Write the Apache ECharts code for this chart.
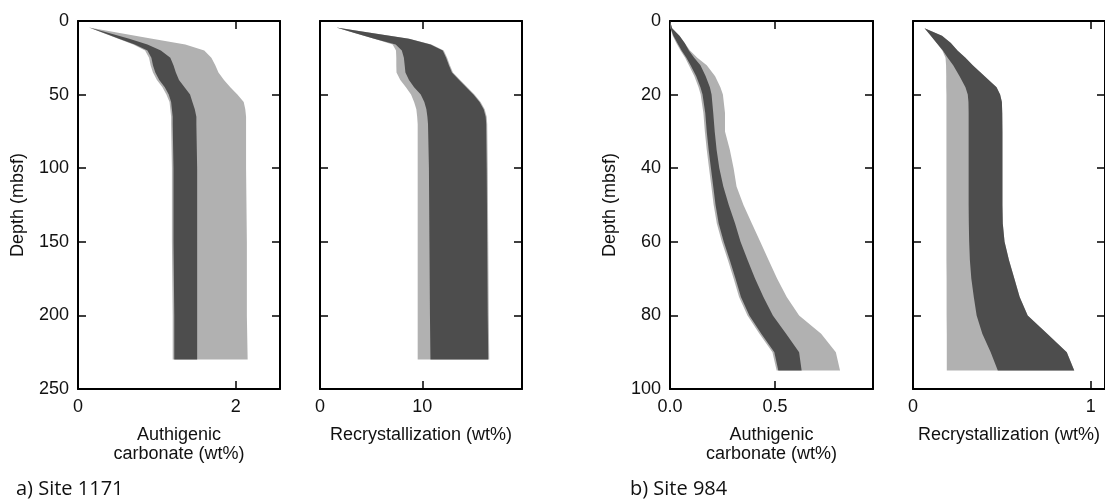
<!DOCTYPE html>
<html>
<head>
<meta charset="utf-8">
<script src="https://cdn.jsdelivr.net/npm/echarts@6/dist/echarts.min.js"></script>
<style>
  html, body { margin: 0; padding: 0; background: #fff; }
  #chart { width: 1105px; height: 500px; }
</style>
</head>
<body>
<div id="chart"></div>
<script>
// Site 1171 (depth in mbsf)
const depth1171 = [4.5, 8, 12, 16, 20, 25, 30, 35, 40, 45, 50, 55, 60, 65, 70, 100, 150, 200, 230]
const auth1171LightLo = [0.14, 0.31, 0.51, 0.70, 0.85, 0.90, 0.92, 0.95, 1.00, 1.07, 1.12, 1.16, 1.17, 1.18, 1.18, 1.19, 1.19, 1.20, 1.20]
const auth1171LightHi = [0.14, 0.51, 0.94, 1.36, 1.60, 1.69, 1.74, 1.78, 1.85, 1.93, 2.02, 2.10, 2.12, 2.13, 2.13, 2.13, 2.14, 2.14, 2.15]
const auth1171DarkLo = [0.14, 0.32, 0.52, 0.72, 0.88, 0.93, 0.95, 0.98, 1.03, 1.10, 1.15, 1.18, 1.19, 1.20, 1.20, 1.21, 1.21, 1.22, 1.22]
const auth1171DarkHi = [0.14, 0.38, 0.65, 0.88, 1.05, 1.17, 1.21, 1.24, 1.28, 1.35, 1.42, 1.45, 1.48, 1.50, 1.50, 1.51, 1.51, 1.51, 1.51]
const rec1171LightLo = [1.6, 3.3, 5.3, 7.1, 7.43, 7.46, 7.46, 7.48, 7.85, 8.4, 8.9, 9.2, 9.42, 9.5, 9.55, 9.55, 9.55, 9.55, 9.55]
const rec1171LightHi = [1.6, 4.9, 8.7, 10.9, 12.1, 12.43, 12.7, 13.0, 13.7, 14.4, 15.1, 15.7, 16.1, 16.3, 16.35, 16.4, 16.45, 16.5, 16.55]
const rec1171DarkLo = [1.6, 3.3, 5.3, 7.4, 8.0, 8.2, 8.28, 8.35, 8.7, 9.2, 9.85, 10.2, 10.4, 10.5, 10.56, 10.65, 10.7, 10.75, 10.8]
const rec1171DarkHi = [1.6, 4.9, 8.7, 10.8, 12.0, 12.33, 12.6, 12.9, 13.6, 14.3, 15.0, 15.6, 16.0, 16.2, 16.25, 16.3, 16.35, 16.4, 16.45]

// Site 984
const depth984a = [0, 2, 4, 6, 8, 10, 12, 15, 18, 20, 25, 30, 35, 40, 45, 50, 55, 60, 65, 70, 75, 80, 85, 90, 95]
const auth984LightLo = [0, 0.002, 0.013, 0.03, 0.05, 0.072, 0.09, 0.116, 0.136, 0.146, 0.159, 0.166, 0.175, 0.186, 0.197, 0.208, 0.223, 0.247, 0.276, 0.303, 0.329, 0.369, 0.426, 0.488, 0.508]
const auth984LightHi = [0, 0.01, 0.045, 0.07, 0.095, 0.13, 0.175, 0.215, 0.24, 0.252, 0.262, 0.262, 0.285, 0.303, 0.317, 0.35, 0.39, 0.43, 0.47, 0.51, 0.556, 0.615, 0.72, 0.79, 0.81]
const auth984DarkLo = [0, 0.003, 0.016, 0.035, 0.055, 0.078, 0.098, 0.125, 0.145, 0.155, 0.168, 0.175, 0.184, 0.195, 0.206, 0.217, 0.232, 0.256, 0.285, 0.312, 0.338, 0.378, 0.435, 0.497, 0.516]
const auth984DarkHi = [0, 0.01, 0.045, 0.07, 0.09, 0.115, 0.145, 0.17, 0.19, 0.198, 0.206, 0.213, 0.222, 0.235, 0.254, 0.28, 0.31, 0.336, 0.37, 0.405, 0.445, 0.49, 0.553, 0.615, 0.627]

const depth984b = [2, 4, 6, 8, 10, 12, 15, 18, 20, 22, 25, 30, 40, 50, 55, 60, 65, 70, 75, 80, 85, 90, 95]
const rec984LightLo = [0.065, 0.10, 0.133, 0.165, 0.183, 0.186, 0.187, 0.187, 0.188, 0.188, 0.188, 0.188, 0.188, 0.188, 0.188, 0.188, 0.188, 0.189, 0.189, 0.189, 0.19, 0.19, 0.19]
const rec984DarkLo = [0.065, 0.10, 0.133, 0.168, 0.195, 0.226, 0.262, 0.295, 0.308, 0.312, 0.313, 0.313, 0.313, 0.313, 0.314, 0.316, 0.32, 0.328, 0.342, 0.358, 0.39, 0.437, 0.477]
const rec984DarkHi = [0.065, 0.163, 0.213, 0.25, 0.295, 0.336, 0.403, 0.47, 0.49, 0.50, 0.502, 0.503, 0.503, 0.503, 0.505, 0.515, 0.54, 0.57, 0.60, 0.645, 0.755, 0.865, 0.907]
const rec984LightHi = rec984DarkHi

// axis ranges / ticks
const panelDepthMax = [250, 250, 100, 100]
const panelDepthStep = [50, 50, 20, 20]
const panelXMax = [2.56, 19.75, 0.967, 1.08]
const panelXStep = [2, 10, 0.5, 1]

const LIGHT = '#b1b1b1'
const DARK = '#4d4d4d'
const FONT = 'Liberation Sans'
const FS = 18

const chart = echarts.init(document.getElementById('chart'))

const grids = [
  { left: 78, top: 21, width: 202, height: 368 },
  { left: 320, top: 21, width: 202, height: 368 },
  { left: 670, top: 21, width: 203, height: 368 },
  { left: 913, top: 21, width: 201, height: 368 }
]

const xNames = ['Authigenic\ncarbonate (wt%)', 'Recrystallization (wt%)', 'Authigenic\ncarbonate (wt%)', 'Recrystallization (wt%)']

const lineStyle = { color: '#000', width: 2 }
const tickStyle = { show: true, inside: true, length: 8, lineStyle: { color: '#000', width: 1.5 } }

const xAxis = []
const yAxis = []
for (let i = 0; i < 4; i++) {
  const base = {
    gridIndex: i,
    type: 'value',
    min: 0,
    max: panelXMax[i],
    interval: panelXStep[i],
    splitLine: { show: false },
    axisLine: { show: true, onZero: false, lineStyle: lineStyle },
    axisTick: tickStyle
  }
  xAxis.push(Object.assign({}, base, {
    position: 'bottom',
    name: xNames[i],
    nameLocation: 'middle',
    nameGap: 37,
    nameTextStyle: { fontFamily: FONT, fontSize: FS, color: '#111', lineHeight: 19, verticalAlign: 'top' },
    axisLabel: {
      show: true,
      margin: 9,
      showMaxLabel: false,
      fontFamily: FONT,
      fontSize: FS,
      color: '#111',
      formatter: i === 2 ? v => v.toFixed(1) : v => String(v)
    }
  }))
  xAxis.push(Object.assign({}, base, { position: 'top', axisLabel: { show: false } }))

  const ybase = {
    gridIndex: i,
    type: 'value',
    inverse: true,
    min: 0,
    max: panelDepthMax[i],
    interval: panelDepthStep[i],
    splitLine: { show: false },
    axisLine: { show: true, onZero: false, lineStyle: lineStyle },
    axisTick: tickStyle
  }
  const labelled = i === 0 || i === 2
  yAxis.push(Object.assign({}, ybase, {
    position: 'left',
    name: labelled ? 'Depth (mbsf)' : '',
    nameLocation: 'middle',
    nameRotate: 90,
    nameGap: 51,
    nameTextStyle: { fontFamily: FONT, fontSize: FS, color: '#111' },
    axisLabel: { show: labelled, margin: 9, fontFamily: FONT, fontSize: FS, color: '#111' }
  }))
  yAxis.push(Object.assign({}, ybase, { position: 'right', axisLabel: { show: false } }))
}

function band(panel, depth, lo, hi, color) {
  return {
    type: 'custom',
    xAxisIndex: panel * 2,
    yAxisIndex: panel * 2,
    silent: true,
    data: depth.map((d, i) => [lo[i], d, hi[i]]),
    encode: { x: [0, 2], y: 1 },
    renderItem: function(params, api) {
      if (params.dataIndex !== 0) { return }
      const pts = []
      for (let i = 0; i < depth.length; i++) pts.push(api.coord([lo[i], depth[i]]))
      for (let i = depth.length - 1; i >= 0; i--) pts.push(api.coord([hi[i], depth[i]]))
      return { type: 'polygon', shape: { points: pts }, style: { fill: color } }
    }
  }
}

chart.setOption({
  backgroundColor: '#fff',
  animation: false,
  grid: grids,
  xAxis: xAxis,
  yAxis: yAxis,
  graphic: [
    { type: 'text', left: 16, top: 479, style: { text: 'a) Site 1171', font: "20px 'Open Sans'", fill: '#111' } },
    { type: 'text', left: 630, top: 479, style: { text: 'b) Site 984', font: "20px 'Open Sans'", fill: '#111' } }
  ],
  series: [
    band(0, depth1171, auth1171LightLo, auth1171LightHi, LIGHT),
    band(0, depth1171, auth1171DarkLo, auth1171DarkHi, DARK),
    band(1, depth1171, rec1171LightLo, rec1171LightHi, LIGHT),
    band(1, depth1171, rec1171DarkLo, rec1171DarkHi, DARK),
    band(2, depth984a, auth984LightLo, auth984LightHi, LIGHT),
    band(2, depth984a, auth984DarkLo, auth984DarkHi, DARK),
    band(3, depth984b, rec984LightLo, rec984LightHi, LIGHT),
    band(3, depth984b, rec984DarkLo, rec984DarkHi, DARK)
  ]
})
</script>
</body>
</html>
